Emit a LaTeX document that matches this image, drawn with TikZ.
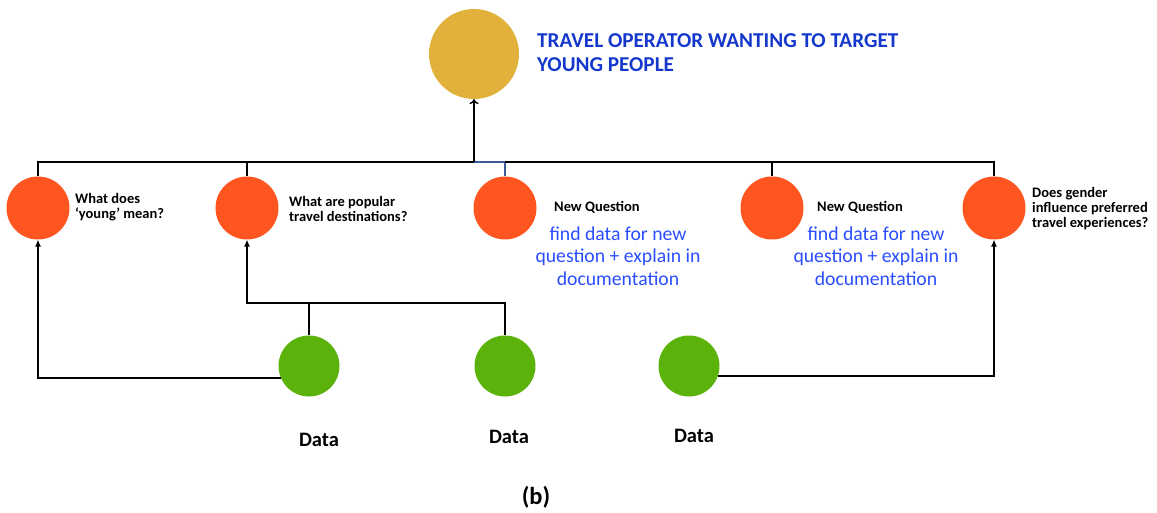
\documentclass[tikz,border=0pt]{standalone}
\usepackage{fontspec}
\setmainfont{Carlito}
\usetikzlibrary{arrows.meta}
\definecolor{goldc}{HTML}{E1B13C}
\definecolor{orangec}{HTML}{FF5521}
\definecolor{greenc}{HTML}{5BB20A}
\definecolor{headblue}{HTML}{1438CC}
\definecolor{noteblue}{HTML}{2A4DFF}
\definecolor{linkblue}{HTML}{3A5A9A}
\tikzset{
  goal/.style={circle,fill=goldc,minimum size=90pt,inner sep=0pt},
  question/.style={circle,fill=orangec,minimum size=63pt,inner sep=0pt},
  datum/.style={circle,fill=greenc,minimum size=61pt,inner sep=0pt},
  qlabel/.style={anchor=west,align=left,inner sep=0pt,font=\fontsize{14.5}{15}\selectfont\bfseries},
  newq/.style={anchor=base west,inner sep=0pt,font=\fontsize{14.5}{15}\selectfont\bfseries},
  note/.style={align=center,inner sep=0pt,text=noteblue,font=\fontsize{19.7}{22.5}\selectfont},
  dlabel/.style={inner sep=0pt,font=\fontsize{20.5}{23}\selectfont\bfseries},
  link/.style={line width=1.1pt,draw=black},
  feed/.style={line width=1.1pt,draw=black,-{Latex[length=7pt,width=6pt]}},
  mainlink/.style={line width=1.8pt,draw=black,-{To[length=5pt,width=9pt,line width=1.5pt]}}
}
\begin{document}
\begin{tikzpicture}[x=1pt,y=-1pt]
\useasboundingbox (0,0) rectangle (1157,513);

% goal
\node[goal] (goal) at (474,54) {};
\node[anchor=base west,align=left,inner sep=0pt,text=headblue,
      font=\fontsize{21.2}{24}\selectfont\bfseries] (title) at (537,72)
  {TRAVEL OPERATOR WANTING TO TARGET\\YOUNG PEOPLE};

% questions
\node[question] (q1) at (38,208) {};
\node[question] (q2) at (247,208) {};
\node[question] (q3) at (505,208) {};
\node[question] (q4) at (772,208) {};
\node[question] (q5) at (994,208) {};

\node[qlabel] (l1) at (75,207) {What does\\‘young’ mean?};
\node[qlabel] (l2) at (289,209) {What are popular\\travel destinations?};
\node[newq] (l3) at (554,212) {New Question};
\node[newq] (l4) at (817,212) {New Question};
\node[qlabel] (l5) at (1032,209) {Does gender\\influence preferred\\travel experiences?};

\node[note,anchor=base] (n3) at (618,285) {find data for new\\question + explain in\\documentation};
\node[note,anchor=base] (n4) at (876,285) {find data for new\\question + explain in\\documentation};

% data
\node[datum] (d1) at (309,366) {};
\node[datum] (d2) at (505,366) {};
\node[datum] (d3) at (689,366) {};
\node[dlabel,anchor=base] (t1) at (319,446) {Data};
\node[dlabel,anchor=base] (t2) at (509,443) {Data};
\node[dlabel,anchor=base] (t3) at (694,442) {Data};

\node[inner sep=0pt,font=\fontsize{24.5}{28}\selectfont\bfseries] (cap) at (536,497) {(b)};

% bus joining the questions to the goal
\coordinate (bus) at (474,162);
\coordinate (join) at (309,303);
\draw[link] (q1.north) |- (bus);
\draw[link,draw=linkblue] (bus) -| (q3.north);
\draw[link] (q3.north |- bus) -| (q5.north);
\draw[link] (q2.north) -- (q2.north |- bus);
\draw[link] (q4.north) -- (q4.north |- bus);
\draw[mainlink] (bus) -- (goal.south);

% data feeding the questions
\draw[feed] (d1.203) -| (q1.south);
\draw[feed] (d1.north) -- (join) -| (q2.south);
\draw[link] (d2.north) |- (join);
\draw[feed] (d3.-19) -| (q5.south);
\end{tikzpicture}
\end{document}
